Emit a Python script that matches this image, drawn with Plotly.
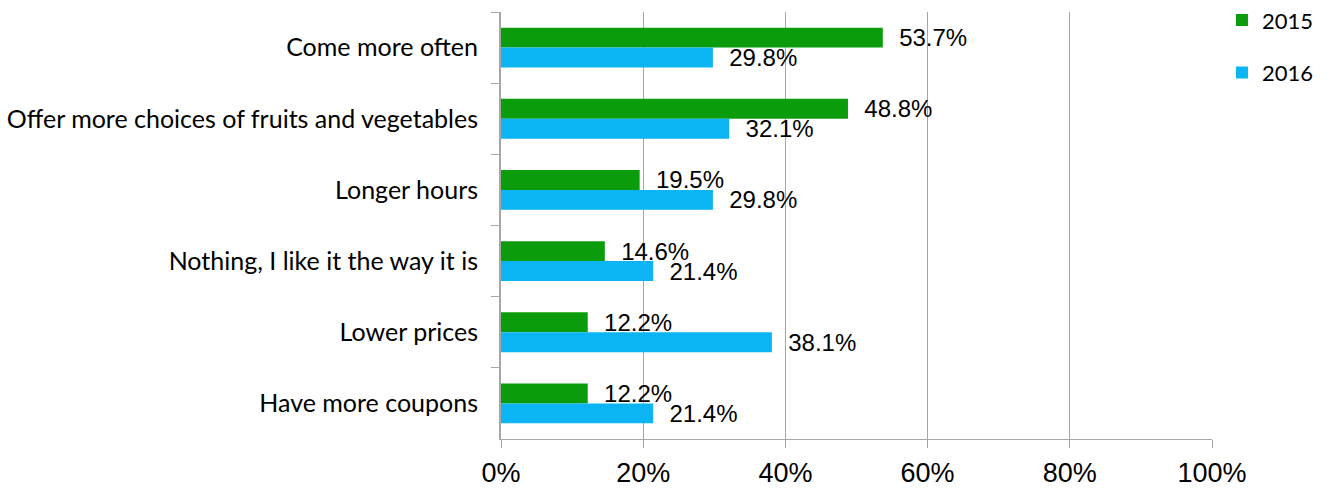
import plotly.graph_objects as go

categories = [
    "Come more often",
    "Offer more choices of fruits and vegetables",
    "Longer hours",
    "Nothing, I like it the way it is",
    "Lower prices",
    "Have more coupons",
]
values_2015 = [53.7, 48.8, 19.5, 14.6, 12.2, 12.2]
values_2016 = [29.8, 32.1, 29.8, 21.4, 38.1, 21.4]
series_names = ["2015", "2016"]
x_ticks = [0, 20, 40, 60, 80, 100]
x_tick_labels = ["0%", "20%", "40%", "60%", "80%", "100%"]

GREEN = "#0A9C0A"
BLUE = "#0BB5F4"
GRID = "#A6A6A6"
PAD = "\u00a0\u00a0"

fig = go.Figure()
for name, vals, col in [(series_names[0], values_2015, GREEN), (series_names[1], values_2016, BLUE)]:
    fig.add_trace(go.Bar(
        y=categories, x=vals, orientation="h", name=name,
        marker=dict(color=col, line=dict(width=0)),
        text=[PAD + f"{v:.1f}%" for v in vals],
        textposition="outside", constraintext="none", cliponaxis=False,
        textfont=dict(family="Liberation Sans, Arial", size=24, color="black"),
        legendgroup=name,
    ))

fig.update_layout(
    width=1331, height=492,
    margin=dict(l=501, r=119, t=12, b=53, autoexpand=False),
    paper_bgcolor="white", plot_bgcolor="white",
    barmode="group", bargap=0.44, bargroupgap=0,
    showlegend=True,
    legend=dict(x=1.014, xanchor="left", y=1.03, yanchor="top",
                traceorder="grouped",
                font=dict(family="Lato, Carlito, sans-serif", size=22, color="black"),
                tracegroupgap=21, bgcolor="rgba(0,0,0,0)"),
    xaxis=dict(range=[0, 100], tickvals=x_ticks, ticktext=x_tick_labels,
               showgrid=True, gridcolor=GRID, gridwidth=1,
               showline=True, linecolor=GRID, linewidth=1,
               ticks="outside", ticklen=8, tickcolor=GRID,
               ticklabelstandoff=2, automargin=False,
               tickfont=dict(family="Liberation Sans, Arial", size=27, color="black"),
               zeroline=False, fixedrange=True),
    yaxis=dict(autorange="reversed", type="category",
               showline=True, linecolor=GRID, linewidth=2,
               ticks="outside", ticklen=8, tickcolor=GRID, tickson="boundaries",
               ticklabelstandoff=16, automargin=False,
               tickfont=dict(family="Lato, Carlito, sans-serif", size=25, color="black"),
               showgrid=False, zeroline=False),
)

fig.write_html("out.html")
